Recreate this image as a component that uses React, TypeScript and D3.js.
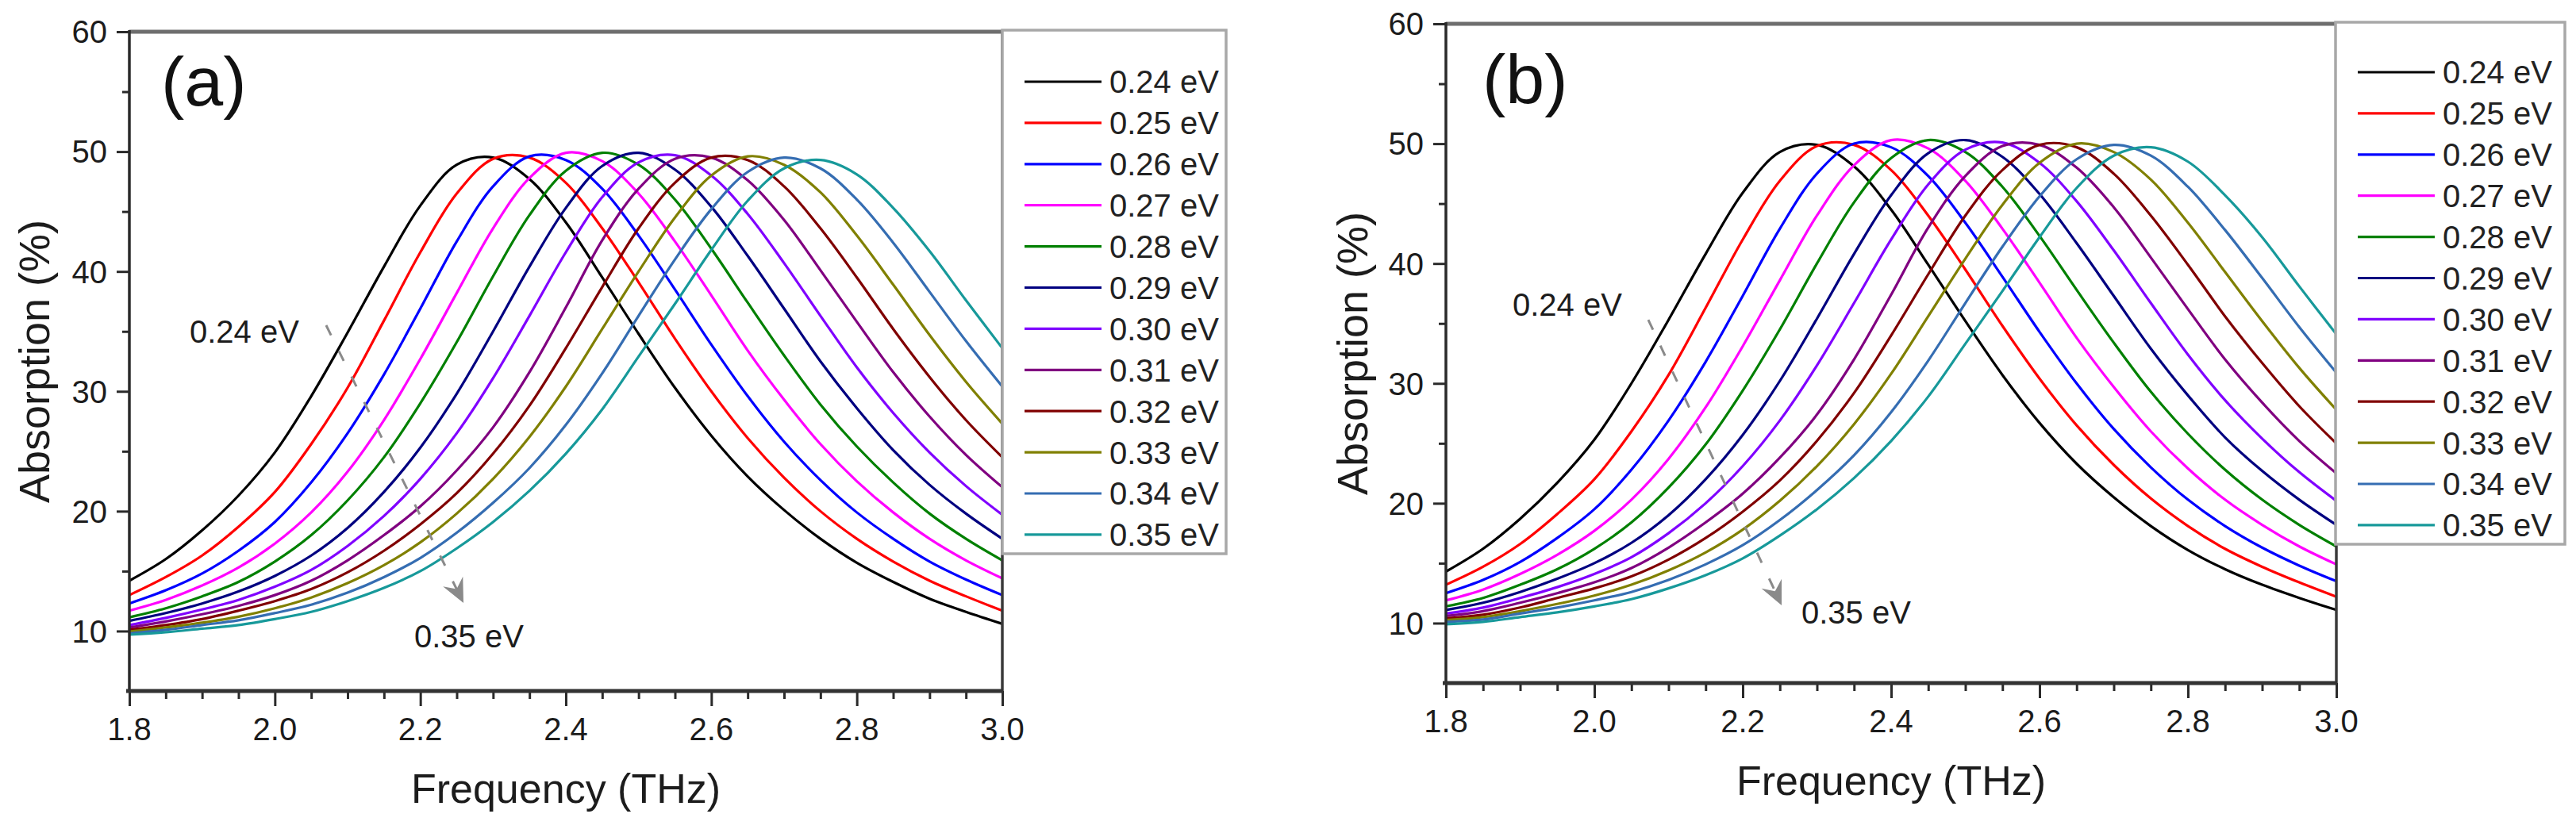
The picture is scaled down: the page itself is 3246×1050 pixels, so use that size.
import React, { useEffect, useRef } from 'react';
import * as d3 from 'd3';

const W = 3246;
const H = 1050;
const FONT = '"Liberation Sans", Arial, Helvetica, sans-serif';

// frequency grid (THz)
const freq = [
  1.8, 1.85, 1.9, 1.95, 2.0, 2.05, 2.1, 2.15, 2.2, 2.25, 2.3, 2.35, 2.4,
  2.45, 2.5, 2.55, 2.6, 2.65, 2.7, 2.75, 2.8, 2.85, 2.9, 2.95, 3.0,
];

const labels = [
  '0.24 eV', '0.25 eV', '0.26 eV', '0.27 eV', '0.28 eV', '0.29 eV',
  '0.30 eV', '0.31 eV', '0.32 eV', '0.33 eV', '0.34 eV', '0.35 eV',
];

const colors = [
  '#000000', '#ff0000', '#0000ff', '#ff00ff', '#008000', '#000080',
  '#8000ff', '#800080', '#800000', '#808000', '#356db2', '#17999a',
];

const xTicks = [1.8, 2.0, 2.2, 2.4, 2.6, 2.8, 3.0];
const xMinorTicks = [1.85, 1.9, 1.95, 2.05, 2.1, 2.15, 2.25, 2.3, 2.35, 2.45, 2.5, 2.55, 2.65, 2.7, 2.75, 2.85, 2.9, 2.95];
const yTicks = [10, 20, 30, 40, 50, 60];
const yMinorTicks = [15, 25, 35, 45, 55];

// panel (a) absorption (%)
const a024 = [14.2, 16.0, 18.4, 21.3, 24.9, 29.6, 34.9, 40.4, 45.5, 48.9, 49.5, 47.7, 44.1, 39.5, 34.8, 30.3, 26.3, 22.9, 20.1, 17.7, 15.7, 14.1, 12.7, 11.6, 10.6];
const a025 = [13.0, 14.5, 16.3, 18.7, 21.6, 25.6, 30.3, 35.9, 41.6, 46.5, 49.4, 49.5, 47.4, 43.6, 39.1, 34.4, 30.0, 26.1, 22.8, 20.0, 17.7, 15.8, 14.2, 12.9, 11.7];
const a026 = [12.3, 13.4, 14.8, 16.7, 19.1, 22.4, 26.5, 31.4, 36.9, 42.5, 47.1, 49.6, 49.3, 46.9, 43.0, 38.5, 33.9, 29.6, 25.8, 22.6, 19.9, 17.7, 15.8, 14.3, 13.0];
const a027 = [11.7, 12.6, 13.8, 15.3, 17.3, 19.9, 23.3, 27.6, 32.7, 38.2, 43.6, 47.8, 49.9, 49.2, 46.5, 42.5, 38.0, 33.4, 29.3, 25.6, 22.5, 19.9, 17.7, 15.9, 14.4];
const a028 = [11.15, 11.9, 12.9, 14.1, 15.8, 18.0, 20.9, 24.5, 29.0, 34.1, 39.6, 44.7, 48.4, 49.9, 48.9, 46.0, 41.9, 37.4, 33.0, 28.9, 25.4, 22.4, 19.8, 17.7, 15.9];
const a029 = [10.85, 11.5, 12.3, 13.3, 14.6, 16.3, 18.6, 21.6, 25.3, 29.8, 35.0, 40.4, 45.3, 48.8, 49.9, 48.5, 45.4, 41.3, 36.9, 32.5, 28.6, 25.1, 22.2, 19.8, 17.7];
const a030 = [10.5, 11.1, 11.8, 12.6, 13.7, 15.1, 17.1, 19.6, 22.7, 26.5, 31.1, 36.3, 41.6, 46.2, 49.1, 49.7, 48.0, 44.8, 40.7, 36.3, 32.0, 28.2, 24.9, 22.1, 19.7];
const a031 = [10.3, 10.8, 11.4, 12.1, 13.0, 14.2, 15.9, 18.0, 20.4, 23.4, 27.0, 31.6, 37.0, 42.6, 46.9, 49.4, 49.5, 47.6, 44.3, 40.1, 35.8, 31.6, 27.9, 24.7, 22.0];
const a032 = [10.1, 10.5, 11.0, 11.7, 12.5, 13.5, 14.9, 16.7, 18.9, 21.5, 24.8, 28.8, 33.6, 38.7, 43.6, 47.4, 49.5, 49.3, 47.1, 43.6, 39.5, 35.2, 31.2, 27.6, 24.5];
const a033 = [9.95, 10.3, 10.7, 11.2, 11.9, 12.8, 14.0, 15.5, 17.4, 19.8, 22.7, 26.2, 30.4, 35.2, 40.0, 44.5, 48.0, 49.6, 48.9, 46.6, 43.0, 38.9, 34.7, 30.8, 27.3];
const a034 = [9.8, 10.1, 10.5, 10.9, 11.5, 12.2, 13.2, 14.5, 16.1, 18.2, 20.7, 23.6, 27.2, 31.5, 36.3, 41.0, 45.2, 48.3, 49.5, 48.6, 46.0, 42.4, 38.3, 34.2, 30.4];
const a035 = [9.7, 9.9, 10.2, 10.5, 11.0, 11.6, 12.5, 13.6, 15.0, 16.9, 19.1, 21.7, 24.8, 28.5, 32.9, 37.3, 41.8, 45.9, 48.6, 49.3, 48.1, 45.3, 41.7, 37.6, 33.6];

// panel (b) absorption (%)
const b024 = [14.3, 16.2, 18.7, 21.7, 25.3, 30.0, 35.3, 40.8, 45.9, 49.3, 49.9, 48.1, 44.5, 39.9, 35.2, 30.7, 26.7, 23.3, 20.5, 18.1, 16.1, 14.5, 13.2, 12.1, 11.1];
const b025 = [13.2, 14.7, 16.6, 19.1, 22.0, 26.0, 30.7, 36.3, 42.0, 46.9, 49.8, 49.9, 47.8, 44.0, 39.5, 34.8, 30.4, 26.5, 23.2, 20.4, 18.1, 16.2, 14.7, 13.4, 12.2];
const b026 = [12.5, 13.6, 15.1, 17.1, 19.5, 22.8, 26.9, 31.8, 37.3, 42.9, 47.5, 50.0, 49.7, 47.3, 43.4, 38.9, 34.3, 30.0, 26.2, 23.0, 20.3, 18.1, 16.3, 14.8, 13.5];
const b027 = [11.9, 12.8, 14.1, 15.7, 17.7, 20.3, 23.7, 28.0, 33.1, 38.6, 44.0, 48.2, 50.3, 49.6, 46.9, 42.9, 38.4, 33.8, 29.7, 26.0, 22.9, 20.3, 18.2, 16.4, 14.9];
const b028 = [11.4, 12.1, 13.2, 14.5, 16.2, 18.4, 21.3, 24.9, 29.4, 34.5, 40.0, 45.1, 48.8, 50.3, 49.3, 46.4, 42.3, 37.8, 33.4, 29.3, 25.8, 22.8, 20.3, 18.2, 16.4];
const b029 = [11.1, 11.7, 12.6, 13.7, 15.0, 16.7, 19.0, 22.0, 25.7, 30.2, 35.4, 40.8, 45.7, 49.2, 50.3, 48.9, 45.8, 41.7, 37.3, 32.9, 29.0, 25.5, 22.7, 20.3, 18.2];
const b030 = [10.8, 11.3, 12.1, 13.0, 14.1, 15.5, 17.5, 20.0, 23.1, 26.9, 31.5, 36.7, 42.0, 46.6, 49.5, 50.1, 48.4, 45.2, 41.1, 36.7, 32.4, 28.6, 25.4, 22.6, 20.2];
const b031 = [10.6, 11.0, 11.7, 12.5, 13.4, 14.6, 16.3, 18.4, 20.8, 23.8, 27.4, 32.0, 37.4, 43.0, 47.3, 49.8, 49.9, 48.0, 44.7, 40.5, 36.2, 32.0, 28.4, 25.2, 22.5];
const b032 = [10.4, 10.7, 11.3, 12.1, 12.9, 13.9, 15.3, 17.1, 19.3, 21.9, 25.2, 29.2, 34.0, 39.1, 44.0, 47.8, 49.9, 49.7, 47.5, 44.0, 39.9, 35.6, 31.7, 28.1, 25.0];
const b033 = [10.25, 10.5, 11.0, 11.6, 12.3, 13.2, 14.4, 15.9, 17.8, 20.2, 23.1, 26.6, 30.8, 35.6, 40.4, 44.9, 48.4, 50.0, 49.3, 47.0, 43.4, 39.3, 35.2, 31.3, 27.8];
const b034 = [10.1, 10.3, 10.8, 11.3, 11.9, 12.6, 13.6, 14.9, 16.5, 18.6, 21.1, 24.0, 27.6, 31.9, 36.7, 41.4, 45.6, 48.7, 49.9, 49.0, 46.4, 42.8, 38.8, 34.7, 30.9];
const b035 = [9.9, 10.1, 10.5, 10.9, 11.4, 12.0, 12.9, 14.0, 15.4, 17.3, 19.5, 22.1, 25.2, 28.9, 33.3, 37.7, 42.2, 46.3, 49.0, 49.7, 48.5, 45.7, 42.2, 38.1, 34.1];

const seriesA = [a024, a025, a026, a027, a028, a029, a030, a031, a032, a033, a034, a035];
const seriesB = [b024, b025, b026, b027, b028, b029, b030, b031, b032, b033, b034, b035];

interface Panel {
  series: number[][];
  tag: string;
  left: number;
  right: number;
  top: number;
  bottom: number;
  yTitleX: number;
  legend: { x: number; y: number; w: number; h: number; row0: number; step: number };
  // annotation anchors in data units [THz, %]
  tagAt: [number, number];
  lowAt: [number, number];
  highAt: [number, number];
  arrowFrom: [number, number];
  arrowTo: [number, number];
}

const panels: Panel[] = [
  {
    series: seriesA,
    tag: '(a)',
    left: 163,
    right: 1263,
    top: 40,
    bottom: 871,
    yTitleX: 62,
    legend: { x: 1263, y: 38, w: 282, h: 660, row0: 103, step: 51.9 },
    tagAt: [1.8436, 53.84],
    lowAt: [1.8829, 34.06],
    highAt: [2.1916, 8.64],
    arrowFrom: [2.0705, 35.51],
    arrowTo: [2.2593, 12.35],
  },
  {
    series: seriesB,
    tag: '(b)',
    left: 1822,
    right: 2944,
    top: 30,
    bottom: 861,
    yTitleX: 1723,
    legend: { x: 2943, y: 28, w: 289, h: 658, row0: 91, step: 51.9 },
    tagAt: [1.8492, 53.38],
    lowAt: [1.8898, 35.64],
    highAt: [2.2791, 9.96],
    arrowFrom: [2.0727, 35.31],
    arrowTo: [2.2524, 11.49],
  },
];

const drawPanel = (svg: d3.Selection<SVGSVGElement, unknown, null, undefined>, p: Panel) => {
  const x = d3.scaleLinear().domain([1.8, 3.0]).range([p.left, p.right]);
  const y = d3.scaleLinear().domain([5, 60]).range([p.bottom, p.top]);
  const g = svg.append('g');

  // curves
  const line = d3
    .line<number>()
    .x((_, i) => x(freq[i]))
    .y((d) => y(d))
    .curve(d3.curveCatmullRom.alpha(0.5));

  p.series.forEach((s, i) => {
    g.append('path')
      .attr('d', line(s))
      .attr('fill', 'none')
      .attr('stroke', colors[i])
      .attr('stroke-width', 3.2);
  });

  // X ticks
  const xAxisG = g.append('g').attr('transform', `translate(0,${p.bottom})`);
  xAxisG.append('g').call(d3.axisBottom(x).tickValues(xTicks).tickSize(19).tickFormat(() => ''));
  xAxisG.append('g').call(d3.axisBottom(x).tickValues(xMinorTicks).tickSize(10).tickFormat(() => ''));
  xAxisG.selectAll('.domain').remove();
  xAxisG.selectAll('line').attr('stroke', '#2a2a2a').attr('stroke-width', 3);

  // Y ticks
  const yAxisG = g.append('g').attr('transform', `translate(${p.left},0)`);
  yAxisG.append('g').call(d3.axisLeft(y).tickValues(yTicks).tickSize(16).tickFormat(() => ''));
  yAxisG.append('g').call(d3.axisLeft(y).tickValues(yMinorTicks).tickSize(9).tickFormat(() => ''));
  yAxisG.selectAll('.domain').remove();
  yAxisG.selectAll('line').attr('stroke', '#2a2a2a').attr('stroke-width', 3);

  // frame
  g.append('line')
    .attr('x1', p.left).attr('x2', p.right)
    .attr('y1', p.top).attr('y2', p.top)
    .attr('stroke', '#6e6e6e').attr('stroke-width', 5);
  g.append('line')
    .attr('x1', p.right).attr('x2', p.right)
    .attr('y1', p.top).attr('y2', p.bottom)
    .attr('stroke', '#3a3a3a').attr('stroke-width', 3.5);
  g.append('line')
    .attr('x1', p.left).attr('x2', p.left)
    .attr('y1', p.top - 2).attr('y2', p.bottom)
    .attr('stroke', '#2a2a2a').attr('stroke-width', 3.5);
  g.append('line')
    .attr('x1', p.left - 4).attr('x2', p.right + 1)
    .attr('y1', p.bottom).attr('y2', p.bottom)
    .attr('stroke', '#333333').attr('stroke-width', 5);

  // tick labels
  g.selectAll('text.xt')
    .data(xTicks)
    .enter()
    .append('text')
    .attr('x', (d) => x(d))
    .attr('y', p.bottom + 62)
    .attr('text-anchor', 'middle')
    .attr('font-size', 40)
    .attr('fill', '#1c1c1c')
    .text((d) => d.toFixed(1));

  g.selectAll('text.yt')
    .data(yTicks)
    .enter()
    .append('text')
    .attr('x', p.left - 28)
    .attr('y', (d) => y(d))
    .attr('dy', '0.36em')
    .attr('text-anchor', 'end')
    .attr('font-size', 40)
    .attr('fill', '#1c1c1c')
    .text((d) => String(d));

  // axis titles
  g.append('text')
    .attr('x', (p.left + p.right) / 2)
    .attr('y', p.bottom + 141)
    .attr('text-anchor', 'middle')
    .attr('font-size', 52)
    .attr('fill', '#1c1c1c')
    .text('Frequency (THz)');

  g.append('text')
    .attr('transform', `translate(${p.yTitleX},${(p.top + p.bottom) / 2}) rotate(-90)`)
    .attr('text-anchor', 'middle')
    .attr('font-size', 54)
    .attr('fill', '#1c1c1c')
    .text('Absorption (%)');

  // panel tag
  g.append('text')
    .attr('x', x(p.tagAt[0]))
    .attr('y', y(p.tagAt[1]))
    .attr('font-size', 88)
    .attr('fill', '#111')
    .text(p.tag);

  // annotations
  g.append('text')
    .attr('x', x(p.lowAt[0]))
    .attr('y', y(p.lowAt[1]))
    .attr('font-size', 40)
    .attr('fill', '#1c1c1c')
    .text(labels[0]);
  g.append('text')
    .attr('x', x(p.highAt[0]))
    .attr('y', y(p.highAt[1]))
    .attr('font-size', 40)
    .attr('fill', '#1c1c1c')
    .text(labels[labels.length - 1]);

  // dashed arrow
  const x0 = x(p.arrowFrom[0]);
  const y0 = y(p.arrowFrom[1]);
  const x1 = x(p.arrowTo[0]);
  const y1 = y(p.arrowTo[1]);
  const len = Math.hypot(x1 - x0, y1 - y0);
  const ux = (x1 - x0) / len;
  const uy = (y1 - y0) / len;
  const headLen = 30;
  const headHalf = 14;
  g.append('line')
    .attr('x1', x0).attr('y1', y0)
    .attr('x2', x1 - ux * headLen * 0.6).attr('y2', y1 - uy * headLen * 0.6)
    .attr('stroke', '#8a8a8a')
    .attr('stroke-width', 3)
    .attr('stroke-dasharray', '14 22');
  const bx = x1 - ux * headLen;
  const by = y1 - uy * headLen;
  const nx = bx + ux * headLen * 0.35;
  const ny = by + uy * headLen * 0.35;
  g.append('path')
    .attr(
      'd',
      `M${x1},${y1} L${bx - uy * headHalf},${by + ux * headHalf} L${nx},${ny} L${bx + uy * headHalf},${by - ux * headHalf} Z`
    )
    .attr('fill', '#8a8a8a');

  // legend
  const lg = g.append('g').attr('transform', `translate(${p.legend.x},${p.legend.y})`);
  lg.append('rect')
    .attr('width', p.legend.w)
    .attr('height', p.legend.h)
    .attr('fill', '#fff')
    .attr('stroke', '#a8a8a8')
    .attr('stroke-width', 3.5);
  labels.forEach((lab, i) => {
    const ry = p.legend.row0 - p.legend.y + p.legend.step * i;
    lg.append('line')
      .attr('x1', 28).attr('x2', 125)
      .attr('y1', ry).attr('y2', ry)
      .attr('stroke', colors[i])
      .attr('stroke-width', 3.2);
    lg.append('text')
      .attr('x', 135)
      .attr('y', ry)
      .attr('dy', '0.36em')
      .attr('font-size', 40)
      .attr('fill', '#222')
      .text(lab);
  });
};

const App: React.FC = () => {
  const svgRef = useRef<SVGSVGElement | null>(null);

  useEffect(() => {
    if (!svgRef.current) return;
    const svg = d3.select(svgRef.current);
    svg.selectAll('*').remove();
    svg.append('rect').attr('width', W).attr('height', H).attr('fill', '#fff');
    panels.forEach((p) => drawPanel(svg, p));
  }, []);

  return (
    <svg
      ref={svgRef}
      width={W}
      height={H}
      style={{ position: 'absolute', left: 0, top: 0, fontFamily: FONT }}
    />
  );
};

export default App;
